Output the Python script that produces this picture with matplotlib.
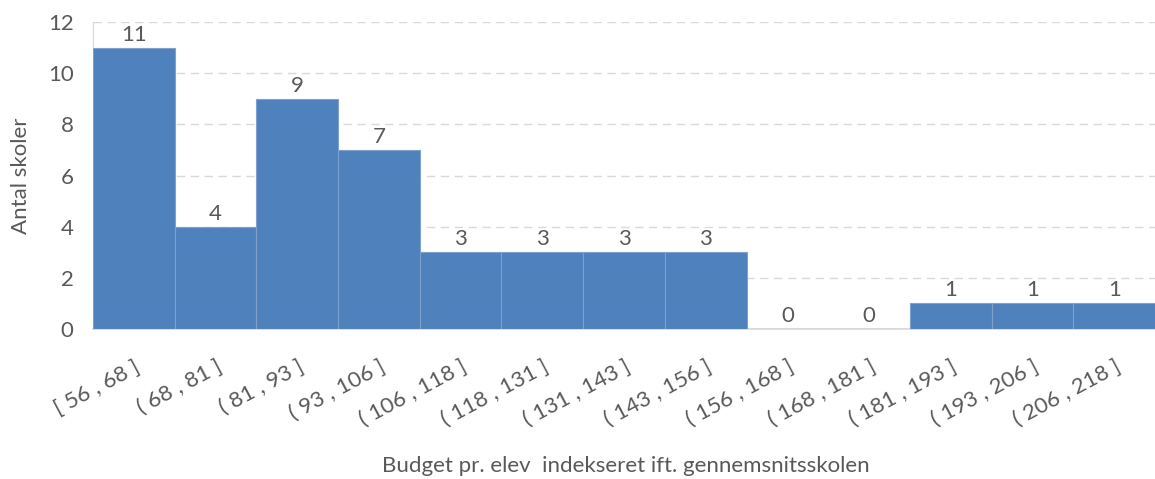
import matplotlib
matplotlib.use("Agg")
import matplotlib.pyplot as plt
import numpy as np

plt.rcParams['font.family'] = ['Lato', 'DejaVu Sans']

categories = ["[ 56 , 68 ]", "( 68 , 81 ]", "( 81 , 93 ]", "( 93 , 106 ]",
              "( 106 , 118 ]", "( 118 , 131 ]", "( 131 , 143 ]", "( 143 , 156 ]",
              "( 156 , 168 ]", "( 168 , 181 ]", "( 181 , 193 ]", "( 193 , 206 ]",
              "( 206 , 218 ]"]
counts = [11, 4, 9, 7, 3, 3, 3, 3, 0, 0, 1, 1, 1]
y_ticks = [0, 2, 4, 6, 8, 10, 12]

text_color = "#595959"
bar_color = "#4F81BD"
fs = 16

fig = plt.figure(figsize=(11.55, 4.79), dpi=100)
ax = fig.add_axes([93/1155, 1 - 329/479, 1 - 93/1155, (329 - 22)/479])

x = np.arange(len(categories))
ax.bar(x, counts, width=1.0, color=bar_color, edgecolor="#7EA1CF",
       linewidth=0.8, zorder=3)

ax.set_xlim(-0.5, len(categories) - 0.5)
ax.set_ylim(0, 12)
ax.set_yticks(y_ticks)
ax.yaxis.grid(True, linestyle=(0, (6, 4)), color="#D9D9D9", linewidth=1.0, zorder=0)
ax.set_axisbelow(True)

for s in ["top", "right"]:
    ax.spines[s].set_visible(False)
ax.spines["left"].set_color("#D9D9D9")
ax.spines["bottom"].set_color("#D9D9D9")
ax.spines["bottom"].set_linewidth(1.2)

ax.tick_params(axis="both", length=0, colors=text_color, labelsize=fs)
ax.tick_params(axis="y", pad=14)
ax.set_xticks(x)
ax.set_xticklabels(categories, rotation=28, ha="right", rotation_mode="anchor")
ax.tick_params(axis="x", pad=20)

for xi, c in zip(x, counts):
    ax.text(xi, c + 0.12, str(c), ha="center", va="bottom", fontsize=fs,
            color=text_color)

ax.set_ylabel("Antal skoler", fontsize=fs, color=text_color, labelpad=12)
fig.text(626/1155, 1 - 466/479, "Budget pr. elev  indekseret ift. gennemsnitsskolen",
         ha="center", va="center", fontsize=fs, color=text_color)

fig.savefig("out.png", dpi=100)
